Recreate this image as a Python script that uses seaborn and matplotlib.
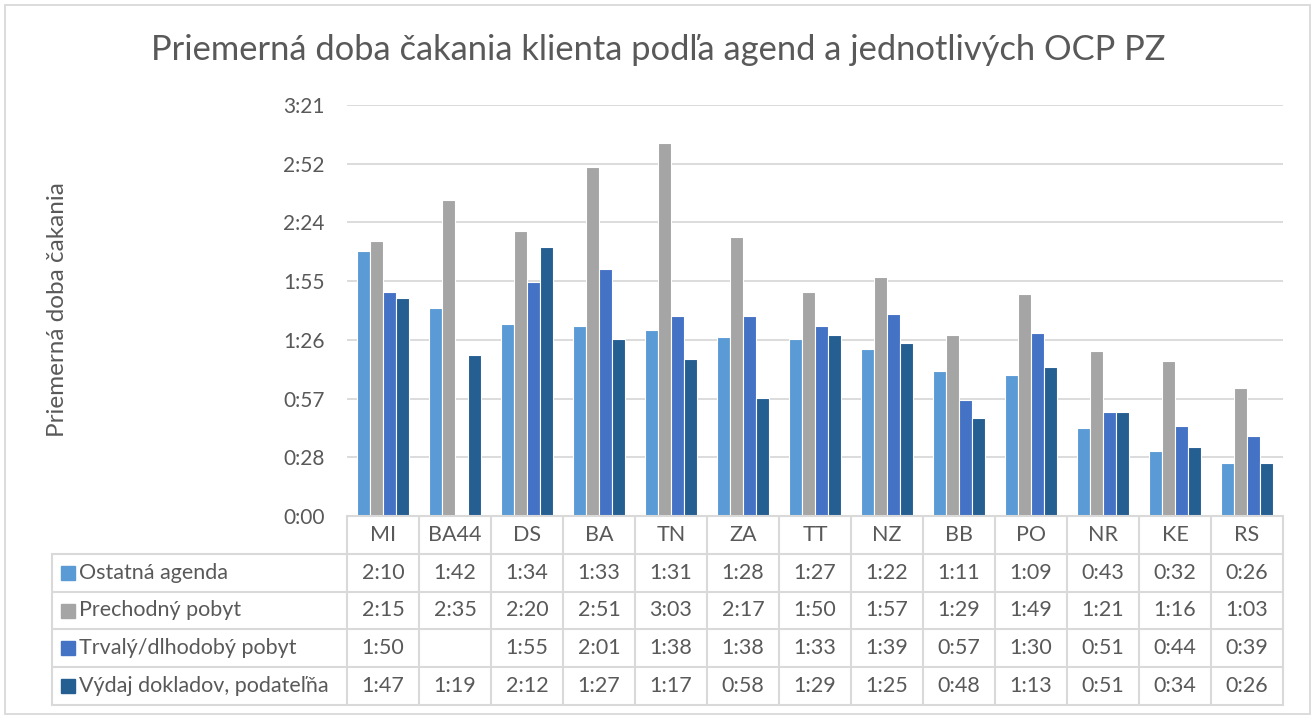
import numpy as np
import pandas as pd
import seaborn as sns
import matplotlib.pyplot as plt
from matplotlib.patches import Rectangle

# data (h:mm as shown in the table)
offices = ['MI', 'BA44', 'DS', 'BA', 'TN', 'ZA', 'TT', 'NZ', 'BB', 'PO', 'NR', 'KE', 'RS']
agendas = ['Ostatná agenda', 'Prechodný pobyt', 'Trvalý/dlhodobý pobyt', 'Výdaj dokladov, podateľňa']

ostatna   = ['2:10', '1:42', '1:34', '1:33', '1:31', '1:28', '1:27', '1:22', '1:11', '1:09', '0:43', '0:32', '0:26']
prechodny = ['2:15', '2:35', '2:20', '2:51', '3:03', '2:17', '1:50', '1:57', '1:29', '1:49', '1:21', '1:16', '1:03']
trvaly    = ['1:50', '',     '1:55', '2:01', '1:38', '1:38', '1:33', '1:39', '0:57', '1:30', '0:51', '0:44', '0:39']
vydaj     = ['1:47', '1:19', '2:12', '1:27', '1:17', '0:58', '1:29', '1:25', '0:48', '1:13', '0:51', '0:34', '0:26']

series = [ostatna, prechodny, trvaly, vydaj]
colors = ['#5B9BD5', '#A5A5A5', '#4472C4', '#255E91']
txt = '#595959'
grid = '#D9D9D9'


def to_min(s):
    if s == '':
        return np.nan
    h, m = s.split(':')
    return int(h) * 60 + int(m)


def fmt(v, pos=None):
    return '{}:{:02d}'.format(int(v // 60), int(v % 60))


rows = []
for ag, vals in zip(agendas, series):
    for o, v in zip(offices, vals):
        rows.append({'office': o, 'agenda': ag, 'minutes': to_min(v)})
df = pd.DataFrame(rows)

sns.set_theme(style='white')
plt.rcParams['font.family'] = ['Lato', 'DejaVu Sans']

W, H = 1314, 716
fig = plt.figure(figsize=(W / 100, H / 100), dpi=100)

# plot area in pixels
px0, px1, py0, py1 = 347, 1283, 105, 516
ax = fig.add_axes([px0 / W, (H - py1) / H, (px1 - px0) / W, (py1 - py0) / H])

sns.barplot(data=df, x='office', y='minutes', hue='agenda', order=offices, hue_order=agendas,
            palette=colors, saturation=1, width=0.72, gap=0, edgecolor='white', linewidth=0.8,
            legend=False, ax=ax, zorder=3)

step = 28.8
ax.set_ylim(0, step * 7)
ax.set_xlim(-0.5, len(offices) - 0.5)
ax.set_yticks(np.arange(0, step * 7 + 0.1, step))
ax.yaxis.set_major_formatter(plt.FuncFormatter(fmt))
ax.tick_params(axis='y', labelsize=15, labelcolor=txt, length=0, pad=16)
ax.set_xticks([])
ax.set_xlabel('')
ax.set_ylabel('')
ax.grid(axis='y', color=grid, linewidth=1.3, zorder=0)
for s in ax.spines.values():
    s.set_visible(False)

fig.text(58 / W, 1 - 310 / H, 'Priemerná doba čakania', rotation=90, ha='center', va='center',
         fontsize=17.5, color=txt)
fig.text(658 / W, 1 - 50 / H, 'Priemerná doba čakania klienta podľa agend a jednotlivých OCP PZ',
         ha='center', va='center', fontsize=24.8, color=txt)

# data table under the plot
tx0, ty1 = 52, 705
cat_w = (px1 - px0) / len(offices)
tab = fig.add_axes([tx0 / W, (H - ty1) / H, (px1 - tx0) / W, (ty1 - py1) / H])
xmin = -0.5 - (px0 - tx0) / cat_w
xmax = len(offices) - 0.5
tab.set_xlim(xmin, xmax)
tab.set_ylim(5, 0)
tab.axis('off')

lk = dict(color=grid, linewidth=1.5, clip_on=False)
tab.plot([-0.5, xmax], [0, 0], **lk)
for r in range(1, 6):
    tab.plot([xmin, xmax], [r, r], **lk)
for k in range(len(offices) + 1):
    tab.plot([k - 0.5, k - 0.5], [0, 5], **lk)
tab.plot([xmin, xmin], [1, 5], **lk)

fs = 15.5
for i, o in enumerate(offices):
    tab.text(i, 0.5, o, ha='center', va='center', fontsize=fs, color=txt)
for r, (ag, vals, c) in enumerate(zip(agendas, series, colors)):
    y = r + 1.5
    tab.plot([xmin + 16 / cat_w], [y], marker='s', markersize=9.5, color=c, linestyle='none', clip_on=False)
    tab.text(xmin + 27 / cat_w, y, ag, ha='left', va='center', fontsize=fs, color=txt)
    for i, v in enumerate(vals):
        tab.text(i, y, v, ha='center', va='center', fontsize=fs, color=txt)

# outer chart border
fig.patches.append(Rectangle((5 / W, 2 / H), 1305 / W, 709 / H, transform=fig.transFigure,
                             fill=False, edgecolor=grid, linewidth=1.3))

fig.savefig('out.png', dpi=100)
